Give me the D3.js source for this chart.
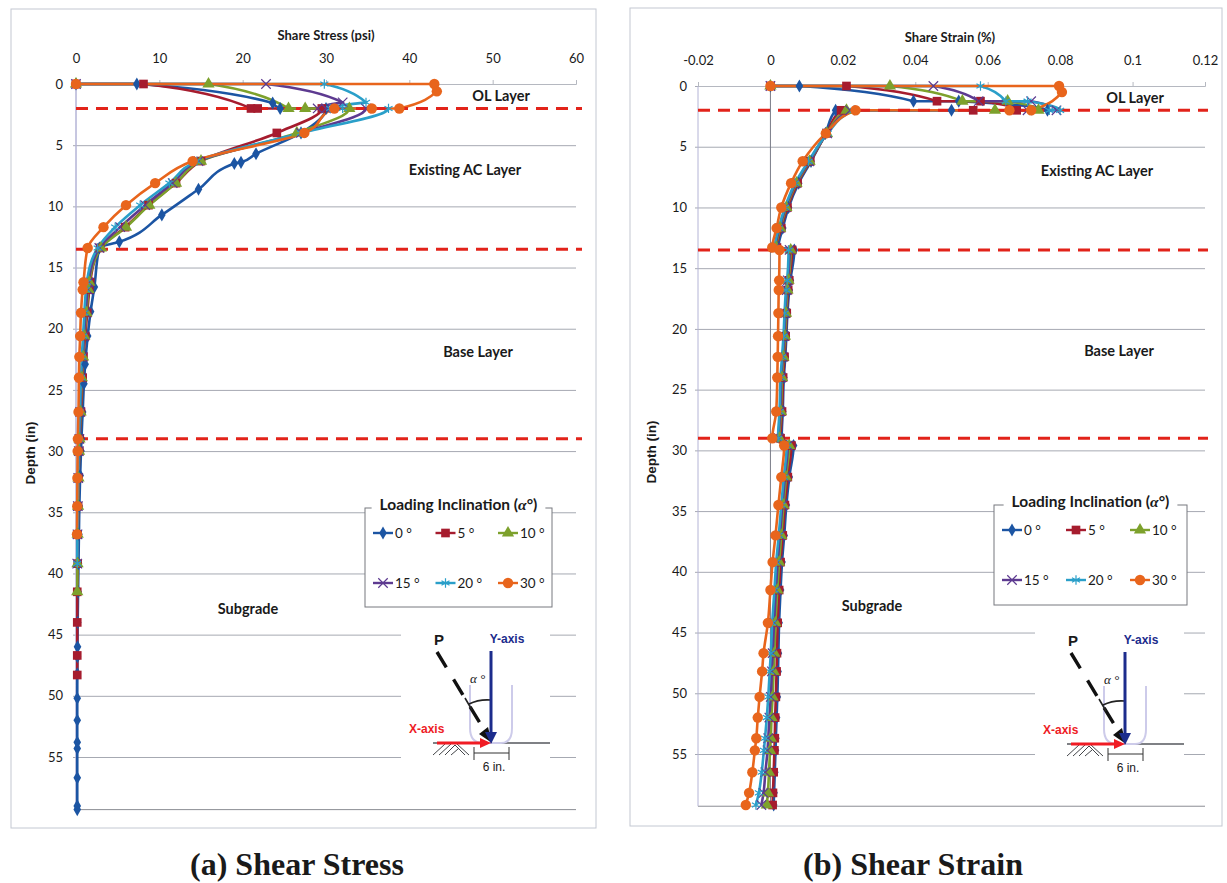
<!DOCTYPE html>
<html>
<head>
<meta charset="utf-8">
<title>Shear stress and shear strain</title>
<script src="https://cdn.jsdelivr.net/npm/d3@7"></script>
<style>
  body { margin: 0; background: #fff; }
  text { font-family: Lato, "Open Sans", sans-serif; fill: #1a1a1a; }
  .tick text { font-size: 13px; }
  .axis-title { font-size: 13px; font-weight: 700; }
  .layer { font-size: 14.5px; font-weight: 700; }
  .caption { font-family: "Liberation Serif", serif; font-size: 32px; font-weight: 700; }
</style>
</head>
<body>
<script>
// ---------- data ----------
var angles = ["0 °", "5 °", "10 °", "15 °", "20 °", "30 °"];
var layerDepths = [2, 13.5, 29];
var depthTicks = [0, 5, 10, 15, 20, 25, 30, 35, 40, 45, 50, 55];
var stressTicks = [0, 10, 20, 30, 40, 50, 60];
var strainTicks = [-0.02, 0, 0.02, 0.04, 0.06, 0.08, 0.1, 0.12];

// depths for the 0 deg stress series (it has its own mesh)
var stressDepth0 = [0, 0, 1.55, 2, 2, 4, 5.7, 6.4, 6.5, 8.6, 10.7, 12.9, 13.4, 16.6, 18.6, 20.6, 22.9, 24.5, 26.8, 29, 30, 32, 34.5, 36.8, 39.2, 41.5, 44, 46, 46.8, 48.2, 50.2, 52, 53.8, 54.3, 56.7, 59, 59.3];
var stress0 = [0, 7.3, 23.6, 24.5, 30, 27, 21.6, 19.8, 19, 14.7, 10.3, 5.2, 2.8, 2.2, 1.75, 1.4, 1.1, 0.95, 0.8, 0.65, 0.6, 0.5, 0.4, 0.35, 0.3, 0.25, 0.2, 0.18, 0.17, 0.16, 0.15, 0.15, 0.15, 0.15, 0.15, 0.15, 0.15];

// the other stress series share these depths, null = no point there
var stressDepth = [0, 0, 0.6, 1.5, 2, 2, 2, 4, 6.3, 8.1, 9.9, 11.7, 13.4, 16.2, 16.8, 18.7, 20.6, 22.3, 24, 26.8, 29, 30, 32.2, 34.5, 36.8, 39.2, 41.5, 44, 46.7, 48.3];
var stress5 = [0, 8.1, null, null, 21, 21.8, 29.5, 24.1, 15, 12, 8.7, 5.9, 2.9, 1.7, 1.6, 1.35, 1.1, 0.9, 0.8, 0.6, 0.45, 0.4, 0.3, 0.25, 0.2, 0.2, 0.15, 0.15, 0.15, 0.15];
var stress10 = [0, 15.9, null, null, 25.5, 27.5, 32.8, 26.5, 15, 12, 8.8, 6, 3, 1.6, 1.5, 1.25, 1, 0.85, 0.7, 0.55, 0.42, 0.37, 0.3, 0.25, 0.2, 0.18, 0.15];
var stress15 = [0, 22.8, null, 32, 29, 30, 34.8, 27, 14.7, 11.6, 8.3, 5.3, 2.8, 1.5, 1.4, 1.15, 0.95, 0.8, 0.65, 0.5, 0.4, 0.33, 0.27, 0.22, 0.18, 0.15];
var stress20 = [0, 29.8, null, 34.8, 30.5, 32, 37.5, 27, 14.5, 11.2, 7.7, 4.7, 2.6, 1.3, 1.2, 1, 0.85, 0.7, 0.6, 0.45, 0.35, 0.3, 0.25, 0.2, 0.17, 0.15];
var stress30 = [0, 43, 43.3, null, 38.8, 35.5, 31, 27.4, 14, 9.5, 6, 3.3, 1.4, 0.9, 0.8, 0.6, 0.5, 0.4, 0.35, 0.3, 0.22, 0.2, 0.17, 0.15, 0.12];

var strainDepth = [0, 0, 0.5, 1.25, 1.25, 2, 2, 2, 3.9, 6.2, 8, 10, 11.7, 13.3, 13.5, 16, 16.8, 18.7, 20.6, 22.3, 24, 26.8, 29, 29.6, 32.2, 34.5, 37, 39.2, 41.5, 44.2, 46.7, 48.2, 50.3, 52, 53.7, 54.7, 56.5, 58.2, 59.2];
var strain0 = [0, 0.008, null, 0.0395, 0.052, 0.0765, 0.05, 0.018, 0.0152, 0.0112, 0.0078, 0.005, 0.0034, 0.0022, 0.0066, 0.0055, 0.0052, 0.0047, 0.0044, 0.0041, 0.0037, 0.0034, 0.0031, 0.0064, 0.0052, 0.0044, 0.0038, 0.0032, 0.0028, 0.0024, 0.0022, 0.0021, 0.0019, 0.0017, 0.0015, 0.0014, 0.0012, 0.001, 0.0009];
var strain5 = [0, 0.021, null, 0.046, 0.058, 0.068, 0.056, 0.0195, 0.0155, 0.011, 0.0075, 0.0047, 0.003, 0.0018, 0.006, 0.0052, 0.0049, 0.0045, 0.0042, 0.0039, 0.0035, 0.0032, 0.0028, 0.0058, 0.0048, 0.004, 0.0034, 0.0028, 0.0024, 0.002, 0.0018, 0.0017, 0.0015, 0.0013, 0.0012, 0.0011, 0.0009, 0.0007, 0.0006];
var strain10 = [0, 0.033, null, 0.053, 0.0655, 0.074, 0.062, 0.021, 0.0156, 0.0108, 0.0072, 0.0044, 0.0027, 0.0016, 0.0056, 0.005, 0.0047, 0.0043, 0.004, 0.0036, 0.0032, 0.0029, 0.0025, 0.0052, 0.0043, 0.0036, 0.003, 0.0024, 0.0019, 0.0014, 0.0011, 0.0009, 0.0006, 0.0003, 0.0001, -0.0001, -0.0004, -0.0007, -0.001];
var strain15 = [0, 0.045, null, 0.0575, 0.072, 0.079, 0.071, 0.022, 0.0157, 0.0107, 0.007, 0.0042, 0.0025, 0.0014, 0.0053, 0.0048, 0.0045, 0.0041, 0.0038, 0.0034, 0.003, 0.0027, 0.0023, 0.0048, 0.004, 0.0033, 0.0026, 0.002, 0.0015, 0.001, 0.0006, 0.0004, 0.0001, -0.0003, -0.0006, -0.0008, -0.0014, -0.0019, -0.0025];
var strain20 = [0, 0.058, null, 0.065, 0.071, 0.08, 0.077, 0.023, 0.0158, 0.0105, 0.0068, 0.004, 0.0023, 0.0012, 0.005, 0.0046, 0.0043, 0.0039, 0.0036, 0.0032, 0.0028, 0.0025, 0.0021, 0.0045, 0.0037, 0.003, 0.0023, 0.0016, 0.0011, 0.0005, 0.0001, -0.0002, -0.0006, -0.001, -0.0015, -0.0018, -0.0024, -0.0032, -0.004];
var strain30 = [0, 0.0797, 0.0805, null, null, 0.072, 0.066, 0.0235, 0.0153, 0.0089, 0.0057, 0.003, 0.0017, 0.0005, 0.0025, 0.0024, 0.0023, 0.0022, 0.0021, 0.002, 0.0019, 0.0016, 0.0005, 0.0038, 0.003, 0.0022, 0.0014, 0.0006, 0, -0.0007, -0.0019, -0.0023, -0.003, -0.0035, -0.0039, -0.0043, -0.005, -0.0059, -0.0068];

var colors = ["#1c55a3", "#a61c2e", "#7da12c", "#5d3a90", "#2a9fc9", "#e8651c"];
var symbols = [d3.symbolDiamond, d3.symbolSquare, d3.symbolTriangle, d3.symbolTimes, d3.symbolAsterisk, d3.symbolCircle];
var symbolSizes = [50, 75, 65, 60, 60, 85];

var svg = d3.select("body").append("svg")
  .attr("width", 1227)
  .attr("height", 883);

// turn depth + value arrays into points, skipping the empty slots
function toPoints(depths, values) {
  var pts = [];
  values.forEach((v, i) => {
    if (v != null) pts.push({ depth: depths[i], value: v });
  });
  return pts;
}

function drawMarker(g, i, x, y) {
  var open = i == 3 || i == 4;
  g.append("path")
    .attr("d", d3.symbol().type(symbols[i]).size(symbolSizes[i]))
    .attr("transform", `translate(${x}, ${y})`)
    .attr("fill", open ? "none" : colors[i])
    .attr("stroke", open ? colors[i] : "none")
    .attr("stroke-width", 1.2);
}

function drawPanel(opt) {
  var g = svg.append("g");

  g.append("rect")
    .attr("x", opt.box[0]).attr("y", opt.box[1])
    .attr("width", opt.box[2] - opt.box[0]).attr("height", opt.box[3] - opt.box[1])
    .attr("fill", "none").attr("stroke", "#c3c8d2").attr("stroke-width", 1);

  var x = d3.scaleLinear().domain(opt.xDomain).range(opt.xRange);
  var y = d3.scaleLinear().domain([0, 55]).range(opt.yRange);

  // gridlines come with the depth axis
  var yAxis = g.append("g")
    .attr("transform", `translate(${opt.xRange[0]}, 0)`)
    .call(d3.axisLeft(y).tickValues(depthTicks).tickSize(-(opt.xRange[1] - opt.xRange[0])).tickPadding(opt.depthPad));
  yAxis.select(".domain").remove();
  yAxis.selectAll(".tick line").attr("stroke", "#a6a9b2").attr("x1", -3);

  // bottom line, left edge and vertical axis at x = 0
  g.append("line")
    .attr("x1", opt.xRange[0]).attr("x2", opt.xRange[1])
    .attr("y1", y(59.3)).attr("y2", y(59.3))
    .attr("stroke", "#8b8d94");
  g.append("line")
    .attr("x1", opt.xRange[0]).attr("x2", opt.xRange[0])
    .attr("y1", y(0)).attr("y2", y(59.3))
    .attr("stroke", "#b4b4d6");
  g.append("line")
    .attr("x1", x(0)).attr("x2", x(0))
    .attr("y1", y(0)).attr("y2", y(59.3))
    .attr("stroke", opt.zeroColor);

  var xAxis = g.append("g")
    .attr("transform", `translate(0, ${y(0)})`)
    .call(d3.axisTop(x).tickValues(opt.xTicks).tickSize(4).tickPadding(17).tickFormat(d => d));
  xAxis.select(".domain").attr("stroke", "#b5b8c0");
  xAxis.selectAll(".tick line").attr("stroke", "#b5b8c0");

  g.append("text").attr("class", "axis-title")
    .attr("x", opt.titleX).attr("y", opt.titleY).attr("text-anchor", "middle")
    .text(opt.title);

  g.append("text").attr("class", "axis-title")
    .attr("transform", `translate(${opt.depthX}, ${opt.depthY}) rotate(-90)`)
    .attr("text-anchor", "middle")
    .style("font-family", "'Liberation Sans', sans-serif").style("font-size", "13.5px")
    .text("Depth (in)");

  opt.layers.forEach(l => {
    g.append("text").attr("class", "layer")
      .attr("x", l[1]).attr("y", l[2]).attr("text-anchor", "middle").text(l[0]);
  });

  // white patch behind the sketch hides the gridlines
  g.append("rect")
    .attr("x", opt.sketchX - 32).attr("y", opt.sketchY + 620)
    .attr("width", 149).attr("height", 175)
    .attr("fill", "#fff");

  var line = d3.line()
    .x(d => x(d.value))
    .y(d => y(d.depth))
    .curve(d3.curveMonotoneY);

  // first stretch is flat along depth 0, then a bent drop to the next point,
  // the monotone curve takes over from there
  function seriesPath(pts) {
    var a = pts[1], b = pts[2];
    var cx = x(a.value) * 0.35 + x(b.value) * 0.65;
    var cy = y(a.depth) * 0.7 + y(b.depth) * 0.3;
    return `M${x(pts[0].value)},${y(pts[0].depth)}L${x(a.value)},${y(a.depth)}` +
      `Q${cx},${cy},${x(b.value)},${y(b.depth)}` +
      line(pts.slice(2)).replace(/^M/, "L");
  }

  var seriesGroup = g.append("g");
  opt.series.forEach((pts, i) => {
    seriesGroup.append("path")
      .attr("d", seriesPath(pts))
      .attr("fill", "none")
      .attr("stroke", colors[i])
      .attr("stroke-width", 2.6);
  });

  g.selectAll(".layer-line")
    .data(layerDepths)
    .enter()
    .append("line")
    .attr("x1", opt.xRange[0]).attr("x2", opt.dashEnd)
    .attr("y1", d => y(d)).attr("y2", d => y(d))
    .attr("stroke", "#e2231a")
    .attr("stroke-width", 3)
    .attr("stroke-dasharray", "12 8");

  var markerGroup = g.append("g");
  opt.series.forEach((pts, i) => {
    pts.forEach(p => drawMarker(markerGroup, i, x(p.value), y(p.depth)));
  });

  drawLegend(g, opt.legend);
  drawSketch(g, opt.sketchX, opt.sketchY);
}

function drawLegend(g, box) {
  g.append("rect")
    .attr("x", box.x).attr("y", box.y)
    .attr("width", box.w).attr("height", box.h)
    .attr("fill", "#fff").attr("stroke", "#77797f");

  var gap = g.append("rect")
    .attr("y", box.y - 3).attr("height", 6)
    .attr("fill", "#fff");

  var title = g.append("text")
    .attr("x", box.x + box.w / 2).attr("y", box.y + 2)
    .attr("text-anchor", "middle")
    .style("font-size", "15.5px").style("font-weight", 700);
  title.append("tspan").text("Loading Inclination (");
  title.append("tspan").text("α").style("font-family", "'Liberation Serif', serif").style("font-style", "italic");
  title.append("tspan").text("°)");

  var tw = title.node().getComputedTextLength() + 16;
  gap.attr("x", box.x + box.w / 2 - tw / 2).attr("width", tw);

  angles.forEach((a, i) => {
    var cx = box.x + box.col * (i % 3) + 18;
    var cy = box.y + (i < 3 ? 25 : 75);
    g.append("line")
      .attr("x1", cx - 10).attr("x2", cx + 10)
      .attr("y1", cy).attr("y2", cy)
      .attr("stroke", colors[i]).attr("stroke-width", 2.4);
    drawMarker(g, i, cx, cy);
    g.append("text")
      .attr("x", cx + 12).attr("y", cy + 5)
      .style("font-size", "13.5px")
      .text(a);
  });
}

// little load sketch, plain annotation rather than data
function drawSketch(g, ox, oy) {
  var s = g.append("g").attr("transform", `translate(${ox}, ${oy})`);

  s.append("line").attr("x1", 0).attr("x2", 117).attr("y1", 743).attr("y2", 743)
    .attr("stroke", "#55575c").attr("stroke-width", 1.4);

  s.append("path")
    .attr("d", "M37,685 L37,728 Q37,743 50,743 L68,743 Q79,743 79,728 L79,685")
    .attr("fill", "none").attr("stroke", "#cdcbea").attr("stroke-width", 2);

  // soil hatching
  s.append("path")
    .attr("d", "M0,755 L12,744 M6,755 L18,744 M12,755 L22,745 L32,755 M18,755 L25,749 M24,744 L36,755")
    .attr("fill", "none").attr("stroke", "#44464a").attr("stroke-width", 1);

  // load P
  s.append("line").attr("x1", 4).attr("y1", 652).attr("x2", 56).attr("y2", 738)
    .attr("stroke", "#111").attr("stroke-width", 3.4).attr("stroke-dasharray", "18 14");
  s.append("path").attr("d", "M59,743 L46,734 L55,727 Z").attr("fill", "#111");
  s.append("path").attr("d", "M32,698 L39,710 M36,704 Q46,699 58,700")
    .attr("fill", "none").attr("stroke", "#222").attr("stroke-width", 1.6);

  // axes
  s.append("line").attr("x1", 58).attr("y1", 651).attr("x2", 58).attr("y2", 736)
    .attr("stroke", "#1c2c8c").attr("stroke-width", 3);
  s.append("path").attr("d", "M58,744 L52,732 L64,732 Z").attr("fill", "#1c2c8c");
  s.append("line").attr("x1", 4).attr("y1", 743).attr("x2", 50).attr("y2", 743)
    .attr("stroke", "#f01c24").attr("stroke-width", 3);
  s.append("path").attr("d", "M58,743 L47,738 L47,748 Z").attr("fill", "#f01c24");

  // 6 in. dimension
  s.append("path").attr("d", "M41,747 L41,760 M41,753 L76,753 M76,747 L76,760")
    .attr("fill", "none").attr("stroke", "#333").attr("stroke-width", 1);

  var sans = "'Liberation Sans', sans-serif";
  s.append("text").attr("x", 1).attr("y", 645).text("P")
    .style("font-family", sans).style("font-size", "15px").style("font-weight", 700);
  s.append("text").attr("x", 74).attr("y", 643).attr("text-anchor", "middle").text("Y-axis")
    .style("font-family", sans).style("font-size", "12px").style("font-weight", 700).style("fill", "#1c2c8c");
  s.append("text").attr("x", -24).attr("y", 733).text("X-axis")
    .style("font-family", sans).style("font-size", "12px").style("font-weight", 700).style("fill", "#ee1c25");
  s.append("text").attr("x", 37).attr("y", 683).text("α °")
    .style("font-family", "'Liberation Serif', serif").style("font-style", "italic").style("font-size", "13px");
  s.append("text").attr("x", 61).attr("y", 771).attr("text-anchor", "middle").text("6 in.")
    .style("font-family", sans).style("font-size", "12px");
}

drawPanel({
  box: [11, 9, 596, 828],
  xDomain: [0, 60], xRange: [76, 576], yRange: [84, 757],
  xTicks: stressTicks, zeroColor: "#b4b4d6", depthPad: 13,
  title: "Share Stress (psi)", titleX: 326, titleY: 40,
  depthX: 35, depthY: 453, dashEnd: 582,
  layers: [["OL Layer", 501, 101], ["Existing AC Layer", 465, 175], ["Base Layer", 478, 357], ["Subgrade", 248, 614]],
  series: [
    toPoints(stressDepth0, stress0), toPoints(stressDepth, stress5), toPoints(stressDepth, stress10),
    toPoints(stressDepth, stress15), toPoints(stressDepth, stress20), toPoints(stressDepth, stress30)
  ],
  legend: { x: 365, y: 508, w: 187, h: 99, col: 62.5 },
  sketchX: 433, sketchY: 0
});

drawPanel({
  box: [630, 8, 1222, 826],
  xDomain: [-0.02, 0.12], xRange: [698, 1205], yRange: [86, 754],
  xTicks: strainTicks, zeroColor: "#7a7c88", depthPad: 11,
  title: "Share Strain (%)", titleX: 950, titleY: 42,
  depthX: 656, depthY: 452, dashEnd: 1208,
  layers: [["OL Layer", 1135, 103], ["Existing AC Layer", 1097, 176], ["Base Layer", 1119, 356], ["Subgrade", 872, 611]],
  series: [
    toPoints(strainDepth, strain0), toPoints(strainDepth, strain5), toPoints(strainDepth, strain10),
    toPoints(strainDepth, strain15), toPoints(strainDepth, strain20), toPoints(strainDepth, strain30)
  ],
  legend: { x: 994, y: 505, w: 193, h: 100, col: 64 },
  sketchX: 1067, sketchY: 1
});

svg.append("text").attr("class", "caption")
  .attr("x", 297).attr("y", 875).attr("text-anchor", "middle").text("(a) Shear Stress");
svg.append("text").attr("class", "caption")
  .attr("x", 913).attr("y", 875).attr("text-anchor", "middle").text("(b) Shear Strain");
</script>
</body>
</html>
